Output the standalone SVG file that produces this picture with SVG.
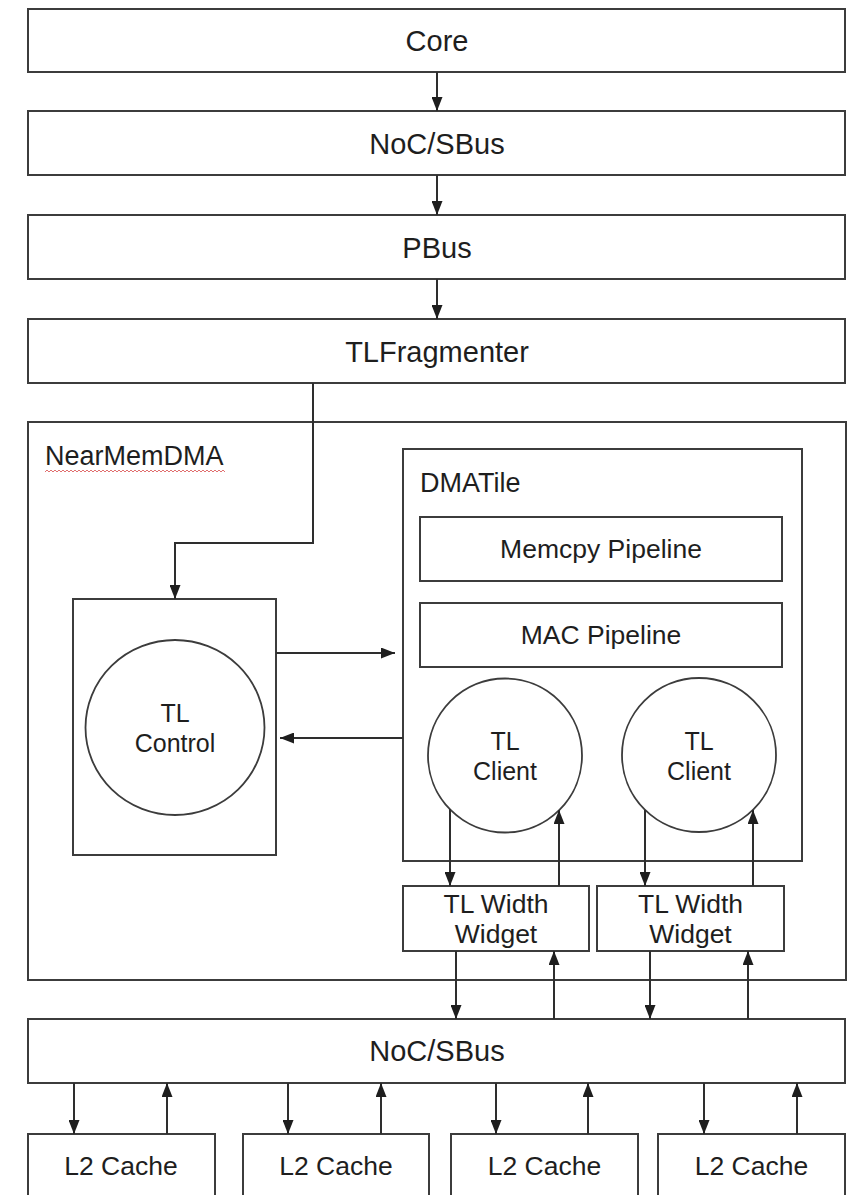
<svg xmlns="http://www.w3.org/2000/svg" width="858" height="1195" viewBox="0 0 858 1195">
  <style>
    .box { fill: #ffffff; stroke: #3c3c3c; stroke-width: 2; }
    .circ { fill: #ffffff; stroke: #3c3c3c; stroke-width: 1.8; }
    .lbl { font-family: "Liberation Sans", Arial, sans-serif; fill: #1e1e1e; }
    .big { font-size: 29px; text-anchor: middle; }
    .mid { font-size: 26.5px; text-anchor: middle; }
    .sm { font-size: 25px; text-anchor: middle; }
    .title { font-size: 27px; }
    .arrow { fill: none; stroke: #2e2e2e; stroke-width: 2; marker-end: url(#head); }
  </style>
  <defs>
    <marker id="head" viewBox="0 0 14 11" refX="14" refY="5.5" markerWidth="14" markerHeight="11" markerUnits="userSpaceOnUse" orient="auto">
      <path d="M0,0 L14,5.5 L0,11 z" fill="#1e1e1e"/>
    </marker>
    <pattern id="squiggle" patternUnits="userSpaceOnUse" x="45" y="469" width="4" height="4">
      <path d="M0,3 L2,1 L4,3" fill="none" stroke="#e07070" stroke-width="1"/>
    </pattern>
  </defs>

  <rect width="858" height="1195" fill="#ffffff"/>

  <!-- top stack -->
  <g id="core">
    <rect class="box" x="28" y="9" width="817" height="63"/>
    <text class="lbl big" x="437" y="51">Core</text>
  </g>
  <g id="noc-top">
    <rect class="box" x="28" y="111" width="817" height="64"/>
    <text class="lbl big" x="437" y="154">NoC/SBus</text>
  </g>
  <g id="pbus">
    <rect class="box" x="28" y="215" width="817" height="64"/>
    <text class="lbl big" x="437" y="258">PBus</text>
  </g>
  <g id="tlfragmenter">
    <rect class="box" x="28" y="319" width="817" height="64"/>
    <text class="lbl big" x="437" y="362">TLFragmenter</text>
  </g>

  <!-- NearMemDMA container -->
  <g id="nearmemdma">
    <rect class="box" x="28" y="422" width="818" height="558"/>
    <text class="lbl title" x="45" y="465">NearMemDMA</text>
    <rect x="45" y="469" width="180" height="4" fill="url(#squiggle)"/>
  </g>

  <g id="dmatile">
    <rect class="box" x="403" y="449" width="399" height="412"/>
    <text class="lbl title" x="420" y="492">DMATile</text>
  </g>
  <g id="memcpy-pipeline">
    <rect class="box" x="420" y="517" width="362" height="64"/>
    <text class="lbl mid" x="601" y="558">Memcpy Pipeline</text>
  </g>
  <g id="mac-pipeline">
    <rect class="box" x="420" y="603" width="362" height="64"/>
    <text class="lbl mid" x="601" y="644">MAC Pipeline</text>
  </g>

  <g id="tl-control">
    <rect class="box" x="73" y="599" width="203" height="256"/>
    <ellipse class="circ" cx="175" cy="727.5" rx="89.5" ry="87.5"/>
    <text class="lbl sm" x="175" y="722">TL</text>
    <text class="lbl sm" x="175" y="752">Control</text>
  </g>

  <g id="tl-client-1">
    <circle class="circ" cx="505" cy="755.5" r="77"/>
    <text class="lbl sm" x="505" y="750">TL</text>
    <text class="lbl sm" x="505" y="780">Client</text>
  </g>
  <g id="tl-client-2">
    <circle class="circ" cx="699" cy="755" r="77"/>
    <text class="lbl sm" x="699" y="750">TL</text>
    <text class="lbl sm" x="699" y="780">Client</text>
  </g>

  <g id="width-widget-1">
    <rect class="box" x="403" y="886" width="186" height="65"/>
    <text class="lbl mid" x="496" y="913">TL Width</text>
    <text class="lbl mid" x="496" y="943">Widget</text>
  </g>
  <g id="width-widget-2">
    <rect class="box" x="597" y="886" width="187" height="65"/>
    <text class="lbl mid" x="690.5" y="913">TL Width</text>
    <text class="lbl mid" x="690.5" y="943">Widget</text>
  </g>

  <!-- bottom bus and caches -->
  <g id="noc-bottom">
    <rect class="box" x="28" y="1019" width="817" height="64"/>
    <text class="lbl big" x="437" y="1061">NoC/SBus</text>
  </g>
  <g id="l2-cache-1">
    <rect class="box" x="28" y="1134" width="187" height="70"/>
    <text class="lbl mid" x="121" y="1175">L2 Cache</text>
  </g>
  <g id="l2-cache-2">
    <rect class="box" x="243" y="1134" width="186" height="70"/>
    <text class="lbl mid" x="336" y="1175">L2 Cache</text>
  </g>
  <g id="l2-cache-3">
    <rect class="box" x="451" y="1134" width="187" height="70"/>
    <text class="lbl mid" x="544.5" y="1175">L2 Cache</text>
  </g>
  <g id="l2-cache-4">
    <rect class="box" x="658" y="1134" width="187" height="70"/>
    <text class="lbl mid" x="751.5" y="1175">L2 Cache</text>
  </g>

  <!-- connectors -->
  <g id="connectors">
    <line class="arrow" x1="437" y1="72" x2="437" y2="111"/>
    <line class="arrow" x1="437" y1="175" x2="437" y2="215"/>
    <line class="arrow" x1="437" y1="279" x2="437" y2="319"/>
    <polyline class="arrow" points="313,383 313,543 175,543 175,599"/>

    <line class="arrow" x1="276" y1="653" x2="395" y2="653"/>
    <line class="arrow" x1="403" y1="738" x2="280" y2="738"/>

    <line class="arrow" x1="450" y1="809" x2="450" y2="886"/>
    <line class="arrow" x1="559" y1="886" x2="559" y2="810"/>
    <line class="arrow" x1="645" y1="810" x2="645" y2="886"/>
    <line class="arrow" x1="753" y1="886" x2="753" y2="810"/>

    <line class="arrow" x1="456" y1="951" x2="456" y2="1019"/>
    <line class="arrow" x1="554" y1="1019" x2="554" y2="951"/>
    <line class="arrow" x1="650" y1="951" x2="650" y2="1019"/>
    <line class="arrow" x1="748" y1="1019" x2="748" y2="951"/>

    <line class="arrow" x1="74" y1="1083" x2="74" y2="1134"/>
    <line class="arrow" x1="167" y1="1134" x2="167" y2="1083"/>
    <line class="arrow" x1="288" y1="1083" x2="288" y2="1134"/>
    <line class="arrow" x1="381" y1="1134" x2="381" y2="1083"/>
    <line class="arrow" x1="496" y1="1083" x2="496" y2="1134"/>
    <line class="arrow" x1="588" y1="1134" x2="588" y2="1083"/>
    <line class="arrow" x1="704" y1="1083" x2="704" y2="1134"/>
    <line class="arrow" x1="797" y1="1134" x2="797" y2="1083"/>
  </g>
</svg>
